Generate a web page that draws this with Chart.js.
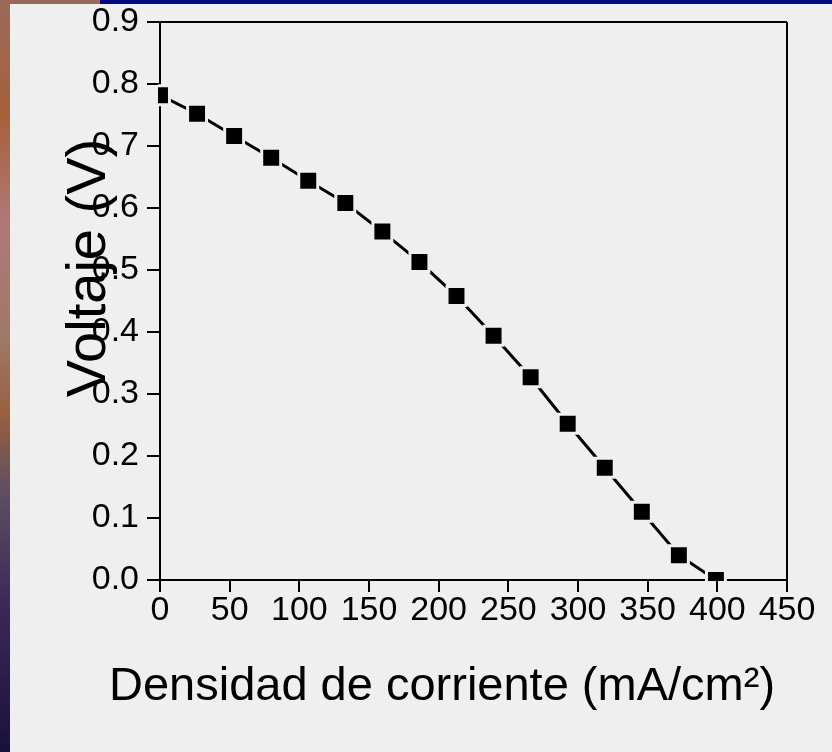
<!DOCTYPE html>
<html>
<head>
<meta charset="utf-8">
<script src="https://cdn.jsdelivr.net/npm/chart.js@4.4.1/dist/chart.umd.min.js"></script>
<style>
  html, body { margin: 0; padding: 0; }
  body {
    width: 832px; height: 752px; position: relative; overflow: hidden;
    background: linear-gradient(180deg, #9a6a5a 0%, #a8603a 15%, #b07878 30%, #a07868 45%, #986040 55%, #605060 65%, #3a2a5a 80%, #1a1040 100%);
  }
  .band { position: absolute; left: 100px; top: 0; right: 0; height: 4px; background: #000a80; }
  .panel { position: absolute; left: 10px; top: 4px; width: 822px; height: 748px; background: #efefef; }
  canvas { display: block; }
</style>
</head>
<body>
<div class="band"></div>
<div class="panel"><canvas id="ivchart" width="822" height="748"></canvas></div>
<script>
// corriente (mA/cm2) y voltaje (V)
const densidad = [0, 26.6, 53.2, 79.8, 106.4, 133, 159.6, 186.2, 212.8, 239.4, 266, 292.6, 319.2, 345.8, 372.4, 399];
const voltaje = [0.782, 0.752, 0.716, 0.681, 0.644, 0.608, 0.562, 0.513, 0.458, 0.394, 0.327, 0.252, 0.181, 0.110, 0.040, 0.0];
const xTitle = 'Densidad de corriente (mA/cm\u00B2)';
const yTitle = 'Voltaje (V)';

const font = 'Liberation Sans, Arial, sans-serif';

const axisTitles = {
  id: 'axisTitles',
  afterDraw(chart) {
    const { ctx, chartArea } = chart;
    ctx.save();
    ctx.fillStyle = '#000';
    ctx.textAlign = 'center';
    ctx.textBaseline = 'alphabetic';
    ctx.font = '47px ' + font;
    ctx.fillText(xTitle, chartArea.left + 282, chartArea.bottom + 120);
    ctx.font = '56px ' + font;
    ctx.translate(chartArea.left - 55, chartArea.top + 246);
    ctx.rotate(-Math.PI / 2);
    ctx.fillText(yTitle, 0, 0);
    ctx.restore();
  }
};

const ctxv = document.getElementById('ivchart').getContext('2d');
const ivchart = new Chart(ctxv, {
  type: 'line',
  data: {
    datasets: [
      {
        data: densidad.map((x, i) => ({ x: x, y: voltaje[i] })),
        borderColor: '#000',
        borderWidth: 3,
        pointStyle: 'rect',
        pointRadius: 13.4,
        pointBackgroundColor: '#000',
        pointBorderColor: '#efefef',
        pointBorderWidth: 3,
        tension: 0,
        clip: { left: 2, bottom: 1, top: false, right: false }
      }
    ]
  },
  options: {
    responsive: false,
    animation: false,
    layout: { padding: { top: 18, right: 45, left: 0, bottom: 0 } },
    plugins: {
      legend: { display: false },
      tooltip: { enabled: false }
    },
    scales: {
      x: {
        type: 'linear',
        min: 0,
        max: 450,
        z: 1,
        afterFit: (s) => { s.height = 172; },
        border: { color: '#000', width: 2 },
        grid: {
          drawOnChartArea: true,
          color: (c) => (c.index === 9 ? '#000' : 'rgba(0,0,0,0)'),
          lineWidth: 2,
          tickColor: '#000',
          tickLength: 12
        },
        ticks: {
          stepSize: 50,
          color: '#000',
          padding: 0,
          font: { family: font, size: 34, lineHeight: 1.1 }
        }
      },
      y: {
        min: 0,
        max: 0.9,
        z: 1,
        afterFit: (s) => { s.width = 150; },
        border: { color: '#000', width: 2 },
        grid: {
          drawOnChartArea: true,
          color: (c) => (c.index === 9 ? '#000' : 'rgba(0,0,0,0)'),
          lineWidth: 2,
          tickColor: '#000',
          tickLength: 13
        },
        ticks: {
          stepSize: 0.1,
          color: '#000',
          padding: 8,
          font: { family: font, size: 34, lineHeight: 0.5 },
          callback: (v) => v.toFixed(1)
        }
      }
    }
  },
  plugins: [axisTitles]
});
</script>
</body>
</html>
